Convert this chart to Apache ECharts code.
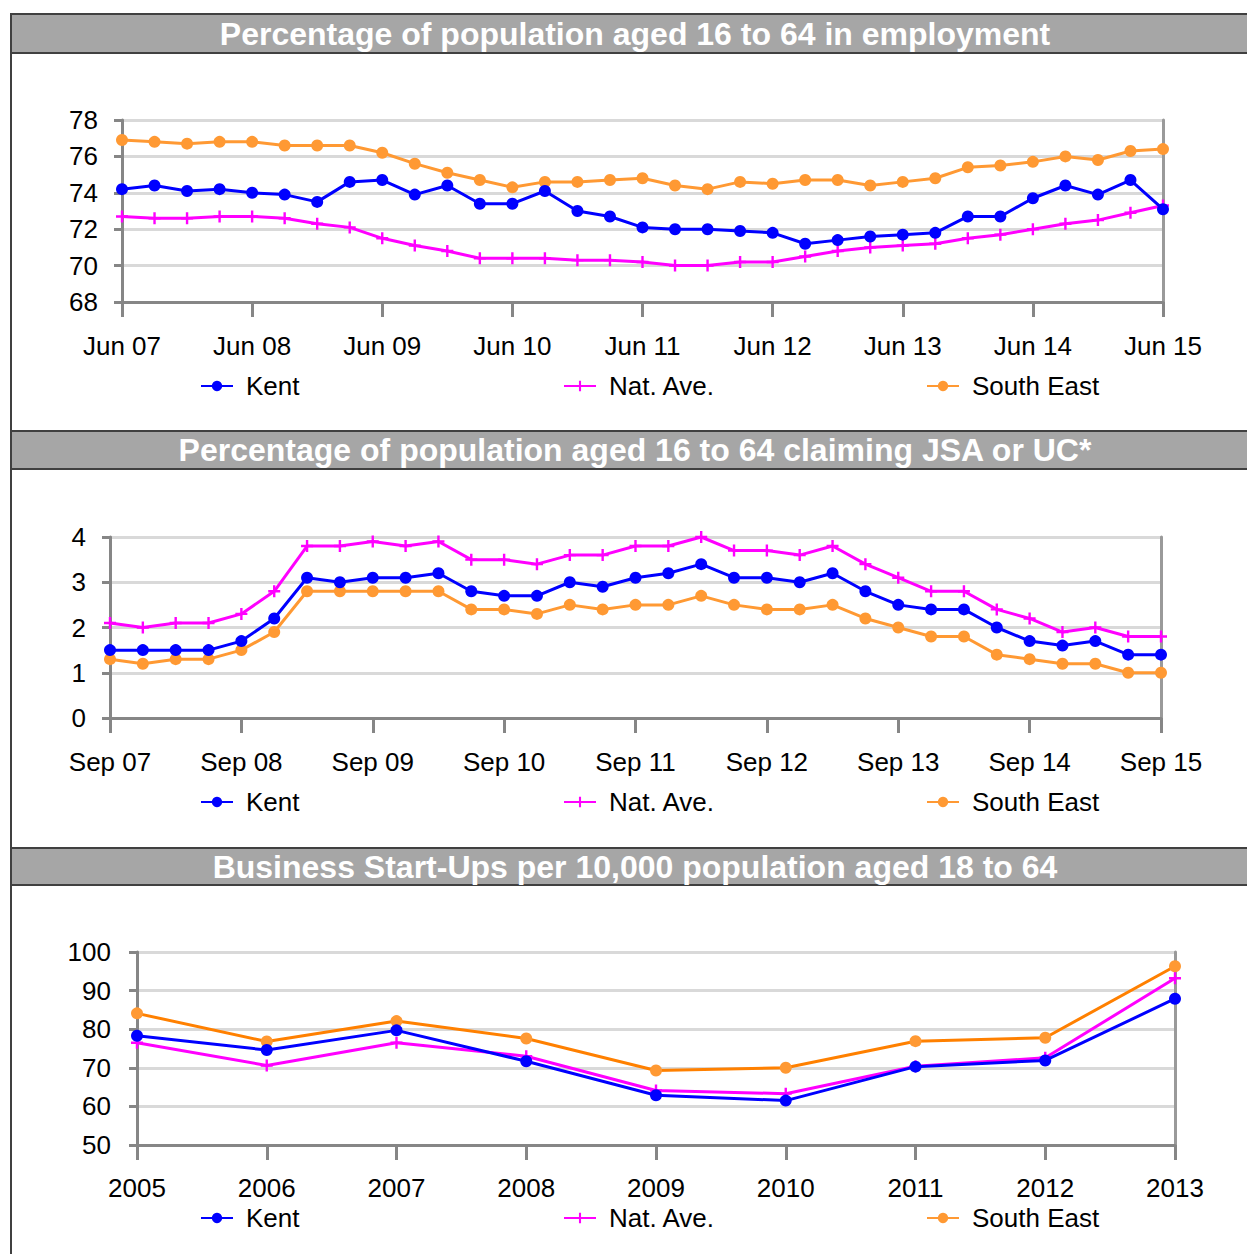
<!DOCTYPE html>
<html>
<head>
<meta charset="utf-8">
<script src="https://cdn.jsdelivr.net/npm/echarts@6/dist/echarts.min.js"></script>
<style>
html,body{margin:0;padding:0;background:#fff;}
#c{width:1247px;height:1254px;}
</style>
</head>
<body>
<div id="c"></div>
<script>
// ---------- DATA ----------
const quartersEmp = ['Jun 07','Sep 07','Dec 07','Mar 08','Jun 08','Sep 08','Dec 08','Mar 09','Jun 09','Sep 09','Dec 09','Mar 10','Jun 10','Sep 10','Dec 10','Mar 11','Jun 11','Sep 11','Dec 11','Mar 12','Jun 12','Sep 12','Dec 12','Mar 13','Jun 13','Sep 13','Dec 13','Mar 14','Jun 14','Sep 14','Dec 14','Mar 15','Jun 15'];
const kentEmp = [74.2,74.4,74.1,74.2,74.0,73.9,73.5,74.6,74.7,73.9,74.4,73.4,73.4,74.1,73.0,72.7,72.1,72.0,72.0,71.9,71.8,71.2,71.4,71.6,71.7,71.8,72.7,72.7,73.7,74.4,73.9,74.7,73.1];
const natEmp  = [72.7,72.6,72.6,72.7,72.7,72.6,72.3,72.1,71.5,71.1,70.8,70.4,70.4,70.4,70.3,70.3,70.2,70.0,70.0,70.2,70.2,70.5,70.8,71.0,71.1,71.2,71.5,71.7,72.0,72.3,72.5,72.9,73.3];
const seEmp   = [76.9,76.8,76.7,76.8,76.8,76.6,76.6,76.6,76.2,75.6,75.1,74.7,74.3,74.6,74.6,74.7,74.8,74.4,74.2,74.6,74.5,74.7,74.7,74.4,74.6,74.8,75.4,75.5,75.7,76.0,75.8,76.3,76.4];

const quartersJsa = ['Sep 07','Dec 07','Mar 08','Jun 08','Sep 08','Dec 08','Mar 09','Jun 09','Sep 09','Dec 09','Mar 10','Jun 10','Sep 10','Dec 10','Mar 11','Jun 11','Sep 11','Dec 11','Mar 12','Jun 12','Sep 12','Dec 12','Mar 13','Jun 13','Sep 13','Dec 13','Mar 14','Jun 14','Sep 14','Dec 14','Mar 15','Jun 15','Sep 15'];
const kentJsa = [1.5,1.5,1.5,1.5,1.7,2.2,3.1,3.0,3.1,3.1,3.2,2.8,2.7,2.7,3.0,2.9,3.1,3.2,3.4,3.1,3.1,3.0,3.2,2.8,2.5,2.4,2.4,2.0,1.7,1.6,1.7,1.4,1.4];
const natJsa  = [2.1,2.0,2.1,2.1,2.3,2.8,3.8,3.8,3.9,3.8,3.9,3.5,3.5,3.4,3.6,3.6,3.8,3.8,4.0,3.7,3.7,3.6,3.8,3.4,3.1,2.8,2.8,2.4,2.2,1.9,2.0,1.8,1.8];
const seJsa   = [1.3,1.2,1.3,1.3,1.5,1.9,2.8,2.8,2.8,2.8,2.8,2.4,2.4,2.3,2.5,2.4,2.5,2.5,2.7,2.5,2.4,2.4,2.5,2.2,2.0,1.8,1.8,1.4,1.3,1.2,1.2,1.0,1.0];

const yearsBiz = ['2005','2006','2007','2008','2009','2010','2011','2012','2013'];
const kentBiz = [78.3,74.6,79.7,71.7,62.9,61.5,70.3,71.9,87.9];
const natBiz  = [76.5,70.6,76.5,73.0,64.1,63.3,70.4,72.6,93.2];
const seBiz   = [84.1,76.8,82.1,77.6,69.3,70.0,76.9,77.8,96.3];

const seriesNames = ['Kent','Nat. Ave.','South East'];
const panelTitles = [
  'Percentage of population aged 16 to 64 in employment',
  'Percentage of population aged 16 to 64 claiming JSA or UC*',
  'Business Start-Ups per 10,000 population aged 18 to 64'
];

// ---------- STYLE ----------
const FONT = '"Liberation Sans", Arial, Helvetica, sans-serif';
const PLUS = 'path://M4,0H6V4H10V6H6V10H4V6H0V4H4Z';
const AXIS_C = '#868686', GRID_C = '#D9D9D9';

const panels = [
  {grid:{left:122, right:84, top:120, height:182}, cats:quartersEmp, data:[kentEmp,natEmp,seEmp], min:68, max:78, interval:2, every:3, legendY:387, yMargin:24},
  {grid:{left:110, right:86, top:537, height:181}, cats:quartersJsa, data:[kentJsa,natJsa,seJsa], min:0, max:4, interval:1, every:3, legendY:803, yMargin:24},
  {grid:{left:137, right:72, top:952, height:193}, cats:yearsBiz, data:[kentBiz,natBiz,seBiz], min:50, max:100, interval:10, every:0, legendY:1219, yMargin:26}
];
const barTops = [14, 431, 848];
const barHeights = [39, 38, 37];
const legendLefts = [200, 563, 926];

const grid = [], xAxis = [], yAxis = [], series = [], legend = [];
panels.forEach((p, i) => {
  grid.push(Object.assign({containLabel:false}, p.grid));
  xAxis.push({
    type:'category', gridIndex:i, data:p.cats, boundaryGap:false,
    axisLine:{show:true, onZero:false, lineStyle:{color:AXIS_C, width:3}},
    axisTick:{show:true, interval:p.every, length:15, lineStyle:{color:AXIS_C, width:3}},
    axisLabel:{interval:p.every, margin:(i===2?30:31), color:'#000', fontSize:26, fontFamily:FONT},
    splitLine:{show:false}
  });
  yAxis.push({
    type:'value', gridIndex:i, min:p.min, max:p.max, interval:p.interval,
    axisLine:{show:true, lineStyle:{color:AXIS_C, width:3}},
    axisTick:{show:true, length:8, lineStyle:{color:AXIS_C, width:3}},
    axisLabel:{margin:p.yMargin, color:'#000', fontSize:26, fontFamily:FONT},
    splitLine:{show:true, lineStyle:{color:GRID_C, width:3}}
  });
  yAxis.push({
    type:'value', gridIndex:i, position:'right', min:p.min, max:p.max, interval:p.interval,
    axisLine:{show:true, lineStyle:{color:'#9a9a9a', width:3}},
    axisTick:{show:false}, axisLabel:{show:false}, splitLine:{show:false}
  });
  const yIdx = i*2;
  const seLine = i===2 ? '#FF8000' : '#FF9933';
  series.push({
    name:'South East', type:'line', xAxisIndex:i, yAxisIndex:yIdx, data:p.data[2],
    symbol:'circle', symbolSize:12, itemStyle:{color:'#FF9933'}, lineStyle:{color:seLine, width:3}, z:2
  });
  series.push({
    name:'Nat. Ave.', type:'line', xAxisIndex:i, yAxisIndex:yIdx, data:p.data[1],
    symbol:PLUS, symbolSize:12, itemStyle:{color:'#FF00FF'}, lineStyle:{color:'#FF00FF', width:3}, z:3
  });
  series.push({
    name:'Kent', type:'line', xAxisIndex:i, yAxisIndex:yIdx, data:p.data[0],
    symbol:'circle', symbolSize:12, itemStyle:{color:'#0000FF'}, lineStyle:{color:'#0000FF', width:3}, z:4
  });
  seriesNames.forEach((nm, k) => {
    legend.push({
      data:[nm], left:legendLefts[k], top:p.legendY-14, selectedMode:false,
      itemWidth:32, itemHeight:13, padding:0,
      textStyle:{fontSize:26, color:'#000', fontFamily:FONT, padding:[0,0,0,8]}
    });
  });
});

const graphics = [];
graphics.push({type:'line', shape:{x1:11, y1:14, x2:11, y2:1254}, style:{stroke:'#404040', lineWidth:2}, z:10});
barTops.forEach((t, i) => {
  graphics.push({type:'rect', shape:{x:11, y:t, width:1245, height:barHeights[i]}, style:{fill:'#A6A6A6', stroke:'#404040', lineWidth:2}, z:10});
  graphics.push({type:'text', x:635, y:t + barHeights[i]/2, z:11,
    style:{text:panelTitles[i], fill:'#FFFFFF', font:'bold 32px ' + FONT, textAlign:'center', textVerticalAlign:'middle'}});
});

const chart = echarts.init(document.getElementById('c'), null, {renderer:'svg', width:1247, height:1254});
chart.setOption({
  animation:false,
  backgroundColor:'#FFFFFF',
  grid, xAxis, yAxis, series, legend,
  graphic:graphics
});
</script>
</body>
</html>
